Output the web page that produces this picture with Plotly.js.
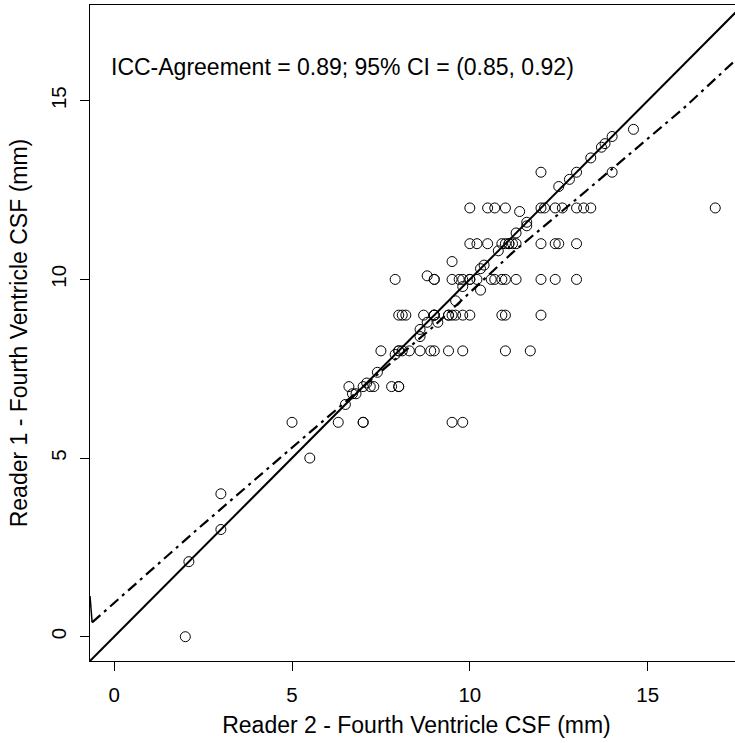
<!DOCTYPE html>
<html>
<head>
<meta charset="utf-8">
<script src="https://cdn.plot.ly/plotly-3.0.1.min.js"></script>
<style>
html, body { margin: 0; padding: 0; overflow: hidden; background: #ffffff; }
#chart { width: 743px; height: 743px; }
</style>
</head>
<body>
<div id="chart"></div>
<script>
// Reader 2 (x) and Reader 1 (y) fourth ventricle CSF measurements (mm)
const reader2 = [
  2, 2.1, 3, 3, 5, 5.5, 6.3, 7, 7, 9.5, 9.8,
  6.5, 6.7, 6.8, 7.1, 7.4, 7.9,
  6.6, 7, 7.2, 7.3, 7.8, 8, 8,
  7.5, 8, 8, 8.1, 8.3, 8.6, 8.9, 9, 9.4, 9.8, 11, 11.7,
  8.6, 8.6, 8.8, 9.1, 9.6, 9.8, 10.3, 9.0,
  8, 8.1, 8.2, 8.7, 9, 9, 9.4, 9.4, 9.5, 9.6, 9.8, 10, 10.9, 11, 12,
  7.9, 9, 9, 9.5, 9.7, 9.8, 10, 10, 10.2, 10.6, 10.7, 10.9, 11, 11.3, 12, 12.4, 13, 8.8,
  10.3, 10.4, 9.5, 10.8, 11.3,
  10, 10.2, 10.5, 10.9, 11, 11.1, 11.1, 11.2, 11.3, 12, 12.4, 12.5, 13,
  11.6, 11.6, 11.4,
  10, 10.5, 10.7, 11, 12, 12.1, 12.4, 12.6, 13, 13.2, 13.4, 16.9,
  12.5, 12.8, 12, 13, 14, 13.4, 13.7, 13.8, 14, 14.6
];
const reader1 = [
  0, 2.1, 3, 4, 6, 5, 6, 6, 6, 6, 6,
  6.5, 6.8, 6.8, 7.1, 7.4, 7.9,
  7, 7, 7, 7, 7, 7, 7,
  8, 8, 8, 8, 8, 8, 8, 8, 8, 8, 8, 8,
  8.4, 8.6, 8.8, 8.8, 9.4, 9.8, 9.7, 9.0,
  9, 9, 9, 9, 9, 9, 9, 9, 9, 9, 9, 9, 9, 9, 9,
  10, 10, 10, 10, 10, 10, 10, 10, 10, 10, 10, 10, 10, 10, 10, 10, 10, 10.1,
  10.3, 10.4, 10.5, 10.8, 11.3,
  11, 11, 11, 11, 11, 11, 11, 11, 11, 11, 11, 11, 11,
  11.6, 11.5, 11.9,
  12, 12, 12, 12, 12, 12, 12, 12, 12, 12, 12, 12,
  12.6, 12.8, 13, 13, 13, 13.4, 13.7, 13.8, 14, 14.2
];

// Line of identity (y = x) spanning the axis range
const identityX = [-0.68, 17.68];
const identityY = [-0.68, 17.68];

// Fitted (dash-dot) curve
const fitX = [-0.62, 2.4, 5.5, 9.0, 11.2, 13.0, 16.0, 17.7];
const fitY = [0.40, 3.06, 5.72, 8.70, 10.75, 12.25, 14.78, 16.35];

// Short steep stub of the fitted curve at the left border
const stubX = [-0.68, -0.62];
const stubY = [1.14, 0.40];

const tickValues = [0, 5, 10, 15];
const tickLabels = ['0', '5', '10', '15'];

const fontFamily = 'Liberation Sans, Arial, Helvetica, sans-serif';

const traces = [
  {
    x: identityX, y: identityY, type: 'scatter', mode: 'lines',
    line: {color: '#000000', width: 2}, hoverinfo: 'skip', showlegend: false
  },
  {
    x: fitX, y: fitY, type: 'scatter', mode: 'lines',
    line: {color: '#000000', width: 2.2, dash: '11px,5px,3px,5px'}, hoverinfo: 'skip', showlegend: false
  },
  {
    x: stubX, y: stubY, type: 'scatter', mode: 'lines',
    line: {color: '#000000', width: 1.5}, hoverinfo: 'skip', showlegend: false
  },
  {
    x: reader2, y: reader1, type: 'scatter', mode: 'markers',
    marker: {symbol: 'circle-open', size: 10, color: '#000000', line: {width: 1, color: '#000000'}},
    showlegend: false
  }
];

const axisCommon = {
  range: [-0.68, 17.68],
  tickmode: 'array',
  tickvals: tickValues,
  ticktext: tickLabels,
  showgrid: false,
  zeroline: false,
  showline: true,
  mirror: true,
  linecolor: '#000000',
  linewidth: 1,
  ticks: 'outside',
  ticklen: 9,
  tickwidth: 1,
  tickcolor: '#000000',
  tickfont: {family: fontFamily, size: 20.5, color: '#000000'},
  fixedrange: true
};

const layout = {
  width: 743,
  height: 743,
  margin: {l: 90, r: 0, t: 5, b: 82, pad: 0},
  paper_bgcolor: '#ffffff',
  plot_bgcolor: '#ffffff',
  font: {family: fontFamily, size: 20, color: '#000000'},
  xaxis: Object.assign({}, axisCommon, {
    ticklabelstandoff: 6,
    title: {text: 'Reader 2 - Fourth Ventricle CSF (mm)', font: {family: fontFamily, size: 23, color: '#000000'}, standoff: 12}
  }),
  yaxis: Object.assign({}, axisCommon, {
    tickangle: -90,
    ticklabelstandoff: 6,
    title: {text: 'Reader 1 - Fourth Ventricle CSF (mm)', font: {family: fontFamily, size: 23, color: '#000000'}, standoff: 12}
  }),
  annotations: [{
    x: -0.14, y: 15.95, xref: 'x', yref: 'y',
    xanchor: 'left', yanchor: 'middle', showarrow: false,
    text: 'ICC-Agreement = 0.89; 95% CI = (0.85, 0.92)',
    font: {family: fontFamily, size: 23, color: '#000000'}
  }],
  showlegend: false
};

Plotly.newPlot('chart', traces, layout, {staticPlot: true, displayModeBar: false});
</script>
</body>
</html>
